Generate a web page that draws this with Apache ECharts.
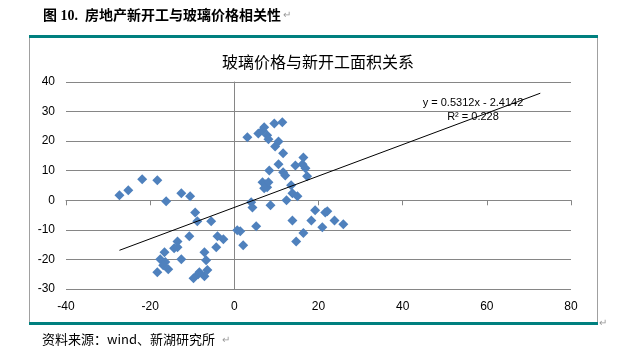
<!DOCTYPE html>
<html>
<head>
<meta charset="utf-8">
<script src="https://cdn.jsdelivr.net/npm/echarts@6/dist/echarts.min.js"></script>
<style>
  html, body { margin: 0; padding: 0; background: #fff; }
  #chart { width: 622px; height: 351px; }
</style>
</head>
<body>
<div id="chart"></div>
<script>
// 新开工面积同比 (x) 与 玻璃价格同比 (y)
const pointX = [
  -27.3, -25.2, -21.9, -18.3, -16.2, -12.6, -10.5, -9.3, -8.8, -5.5,
  -10.7, -13.5, -14.3, -13.5, -16.6, -12.6, -17.6, -16.4, -16.9, -15.7,
  -18.3, -7.1, -6.7, -6.4, -7.1, -8.3, -8.6, -9.7, -4.0, -4.3,
  -2.6, 0.7, 1.4, 2.1, 4.0, 4.3, 5.2, 8.6, 12.4, 13.8,
  14.7, 16.4, 18.3, 19.2, 21.6, 22.1, 20.9, 23.8, 25.9, 13.8,
  15.0, 13.5, 6.7, 7.4, 7.8, 7.1, 8.1, 8.3, 9.7, 10.5,
  11.6, 10.5, 11.6, 12.1, 14.5, 16.4, 16.2, 16.9, 17.3, 3.1,
  5.7, 6.7, 7.1, 7.8, 8.1, 9.5, 11.4
];
const pointY = [
  1.7, 3.4, 7.1, 6.8, -0.3, 2.4, 1.4, -4.1, -7.1, -7.1,
  -12.2, -13.9, -16.2, -15.9, -17.6, -19.9, -19.9, -20.9, -22.0, -23.3,
  -24.3, -17.6, -20.3, -23.6, -25.7, -24.3, -25.0, -26.4, -12.2, -15.9,
  -13.2, -10.1, -10.5, -15.2, -0.7, -2.4, -8.8, -1.7, 0.0, -6.8,
  -13.9, -11.1, -6.8, -3.4, -4.1, -3.7, -9.1, -6.8, -8.1, 2.4,
  1.4, 5.1, 6.1, 5.4, 4.4, 4.1, 6.1, 10.1, 18.2, 19.9,
  15.9, 12.2, 9.5, 8.4, 11.8, 14.5, 12.2, 10.8, 8.1, 21.3,
  22.6, 23.6, 24.7, 22.0, 20.6, 26.0, 26.4
];

// 趋势线 y = 0.5312x - 2.4142
const trendSlope = 0.5312;
const trendIntercept = -2.4142;
const trendRangeX = [-27.3, 72.7];

const xTicks = [-40, 80, 20];   // min, max, interval
const yTicks = [-30, 40, 10];

const scatterData = pointX.map((x, i) => [x, pointY[i]]);
const trendData = trendRangeX.map(x => [x, trendSlope * x + trendIntercept]);

const gray = '#868686';
const teal = '#00807f';
const labelFont = '"Liberation Sans", Arial, sans-serif';
const cjkFont = '"Noto Sans CJK SC", sans-serif';

let chart = echarts.init(document.getElementById('chart'));
chart.setOption({
  animation: false,
  title: {
    text: '玻璃价格与新开工面积关系',
    left: 313,
    top: 49,
    textAlign: 'center',
    textStyle: { fontFamily: cjkFont, fontSize: 16, fontWeight: 'normal', color: '#000' }
  },
  grid: { left: 66, right: 51, top: 82, bottom: 62, containLabel: false },
  xAxis: [
    {
      type: 'value',
      min: xTicks[0], max: xTicks[1], interval: xTicks[2],
      position: 'bottom',
      axisLine: { show: false, onZero: false },
      axisTick: { show: false },
      splitLine: { show: false },
      axisLabel: { fontFamily: labelFont, fontSize: 12, color: '#000', margin: 12 }
    },
    {
      type: 'value',
      min: xTicks[0], max: xTicks[1], interval: xTicks[2],
      position: 'top',
      axisLine: { show: true, onZero: true, lineStyle: { color: gray, width: 1 } },
      axisTick: { show: true, inside: true, length: 5, lineStyle: { color: gray } },
      splitLine: { show: false },
      axisLabel: { show: false }
    }
  ],
  yAxis: [
    {
      type: 'value',
      min: yTicks[0], max: yTicks[1], interval: yTicks[2],
      position: 'left',
      axisLine: { show: false, onZero: false },
      axisTick: { show: false },
      splitLine: { show: true, lineStyle: { color: gray, width: 1 } },
      axisLabel: { fontFamily: labelFont, fontSize: 12, color: '#000', margin: 11 }
    },
    {
      type: 'value',
      min: yTicks[0], max: yTicks[1], interval: yTicks[2],
      position: 'right',
      axisLine: { show: true, onZero: true, lineStyle: { color: gray, width: 1 } },
      axisTick: { show: false },
      splitLine: { show: false },
      axisLabel: { show: false }
    }
  ],
  series: [
    {
      type: 'scatter',
      xAxisIndex: 0,
      yAxisIndex: 0,
      symbol: 'diamond',
      symbolSize: 10,
      itemStyle: { color: '#4f81bd', opacity: 1 },
      data: scatterData,
      z: 3
    },
    {
      type: 'line',
      xAxisIndex: 0,
      yAxisIndex: 0,
      showSymbol: false,
      lineStyle: { color: '#000', width: 1 },
      data: trendData,
      z: 4
    }
  ],
  graphic: [
    // 上方标题
    { type: 'text', left: 43, top: 9,
      style: { text: '图 10.  房地产新开工与玻璃价格相关性', fontFamily: '"Liberation Serif", ' + cjkFont, fontSize: 14, fontWeight: 'bold', fill: '#000' } },
    { type: 'text', left: 283, top: 10, style: { text: '↵', fontSize: 10, fill: '#999' } },
    // 图框
    { type: 'rect', shape: { x: 29, y: 35, width: 569, height: 3 }, style: { fill: teal } },
    { type: 'rect', shape: { x: 29, y: 322, width: 569, height: 3 }, style: { fill: teal } },
    { type: 'line', shape: { x1: 29.5, y1: 38, x2: 29.5, y2: 322 }, style: { stroke: '#a0a0a0', lineWidth: 1 } },
    { type: 'line', shape: { x1: 597.5, y1: 38, x2: 597.5, y2: 322 }, style: { stroke: '#a0a0a0', lineWidth: 1 } },
    { type: 'text', left: 599, top: 318, style: { text: '↵', fontSize: 10, fill: '#999' } },
    // 趋势线公式
    { type: 'text', x: 473, y: 103,
      style: { text: 'y = 0.5312x - 2.4142', fontFamily: labelFont, fontSize: 11, fill: '#000', align: 'center', verticalAlign: 'middle' } },
    { type: 'text', x: 473, y: 117,
      style: { text: 'R² = 0.228', fontFamily: labelFont, fontSize: 11, fill: '#000', align: 'center', verticalAlign: 'middle' } },
    // 资料来源
    { type: 'text', left: 42, top: 333,
      style: { text: '资料来源：wind、新湖研究所', fontFamily: cjkFont, fontSize: 13, fill: '#000' } },
    { type: 'text', left: 222, top: 335, style: { text: '↵', fontSize: 10, fill: '#999' } }
  ]
});
</script>
</body>
</html>
